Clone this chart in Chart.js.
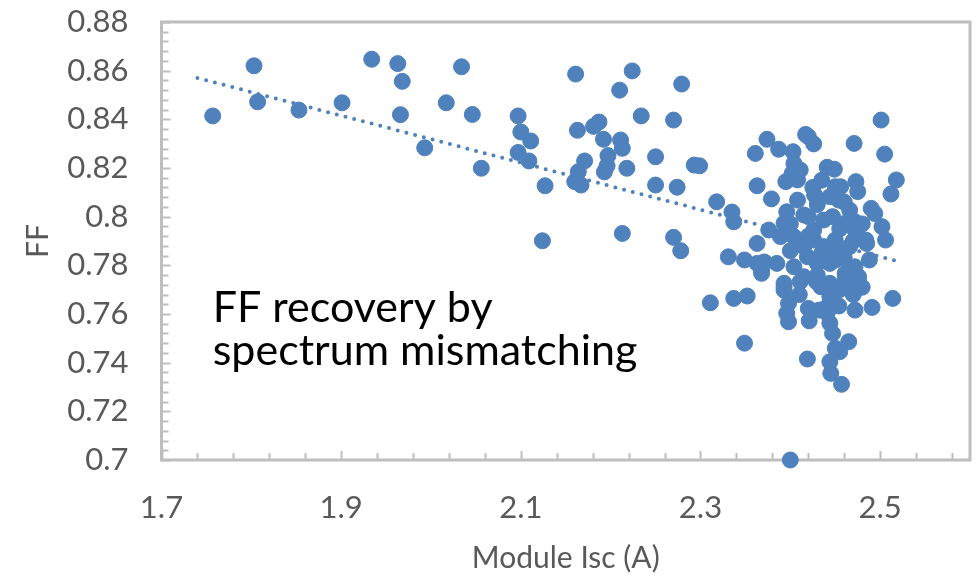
<!DOCTYPE html>
<html>
<head>
<meta charset="utf-8">
<script src="https://cdn.jsdelivr.net/npm/chart.js@4.4.1/dist/chart.umd.min.js"></script>
<style>
  html, body { margin: 0; padding: 0; background: #fff; }
  #wrap { width: 979px; height: 576px; }
</style>
</head>
<body>
<div id="wrap"><canvas id="ffChart" width="979" height="576"></canvas></div>
<script>
// Module short-circuit current (A) against fill factor
const iscValues = [
  1.757, 1.803, 1.807, 1.853, 1.901, 1.934, 1.963, 1.968, 1.966, 1.993,
  2.017, 2.034, 2.046, 2.056, 2.097, 2.100, 2.111, 2.097, 2.109, 2.127,
  2.124, 2.161, 2.163, 2.181, 2.187, 2.192, 2.197, 2.196, 2.193, 2.171,
  2.164, 2.160, 2.167, 2.210, 2.224, 2.211, 2.213, 2.218, 2.213, 2.234,
  2.279, 2.270, 2.250, 2.250, 2.274, 2.293, 2.299, 2.318, 2.335, 2.337,
  2.270, 2.278, 2.331, 2.349, 2.363, 2.371, 2.368, 2.385, 2.361, 2.374,
  2.387, 2.403, 2.417, 2.420, 2.426, 2.471, 2.501, 2.505, 2.518, 2.512,
  2.363, 2.379, 2.404, 2.411, 2.402, 2.395, 2.408, 2.441, 2.449, 2.427,
  2.456, 2.473, 2.475, 2.490, 2.494, 2.502, 2.506,
  2.311, 2.337, 2.352, 2.349, 2.400, 2.398, 2.396, 2.398, 2.393, 2.420,
  2.421, 2.419, 2.432, 2.441, 2.454, 2.444, 2.447, 2.465, 2.455, 2.444,
  2.445, 2.457, 2.472, 2.491, 2.514,
  2.408, 2.396, 2.415, 2.376, 2.393, 2.389, 2.363, 2.426, 2.437, 2.415,
  2.437, 2.404, 2.430, 2.444, 2.454, 2.447, 2.461, 2.472, 2.485, 2.488,
  2.472, 2.450, 2.444, 2.461, 2.476, 2.393, 2.415, 2.434, 2.444, 2.441,
  2.450, 2.461, 2.476, 2.450, 2.404, 2.466, 2.472, 2.450, 2.484, 2.437,
  2.450, 2.393, 2.411, 2.429, 2.444, 2.461, 2.419, 2.426, 2.450, 2.466,
  2.368,
  2.420, 2.430, 2.460, 2.470, 2.455, 2.420, 2.400, 2.430, 2.455, 2.470,
  2.480, 2.410, 2.435, 2.460, 2.480, 2.400, 2.425, 2.435
];
const ffValues = [
  0.8414, 0.8620, 0.8472, 0.8438, 0.8468, 0.8647, 0.8629, 0.8556, 0.8419, 0.8283,
  0.8468, 0.8616, 0.8420, 0.8199, 0.8414, 0.8348, 0.8311, 0.8264, 0.8229, 0.8127,
  0.7901, 0.8586, 0.8355, 0.8371, 0.8389, 0.8318, 0.8251, 0.8209, 0.8184, 0.8229,
  0.8185, 0.8144, 0.8130, 0.8520, 0.8599, 0.8315, 0.8281, 0.8199, 0.7931, 0.8414,
  0.8545, 0.8397, 0.8246, 0.8130, 0.8121, 0.8212, 0.8209, 0.8061, 0.8019, 0.7979,
  0.7915, 0.7860, 0.7835, 0.7822, 0.7808, 0.7814, 0.7781, 0.7808, 0.8260, 0.8318,
  0.8277, 0.8267, 0.8338, 0.8329, 0.8299, 0.8301, 0.8397, 0.8257, 0.8151, 0.8093,
  0.8127, 0.8073, 0.8219, 0.8192, 0.8178, 0.8144, 0.8151, 0.8203, 0.8195, 0.8089,
  0.8123, 0.8144, 0.8103, 0.8034, 0.8013, 0.7959, 0.7904,
  0.7646, 0.7664, 0.7674, 0.7480, 0.7000, 0.7644, 0.7603, 0.7568, 0.7698, 0.7623,
  0.7572, 0.7415, 0.7616, 0.7630, 0.7633, 0.7562, 0.7520, 0.7486, 0.7445, 0.7404,
  0.7356, 0.7311, 0.7616, 0.7627, 0.7664,
  0.8068, 0.8020, 0.8007, 0.7945, 0.7973, 0.7918, 0.7890, 0.7945, 0.7986, 0.7877,
  0.7877, 0.7794, 0.7808, 0.8082, 0.8068, 0.8000, 0.7973, 0.7945, 0.7890, 0.7822,
  0.7794, 0.7877, 0.7808, 0.7767, 0.7753, 0.7712, 0.7753, 0.7712, 0.7671, 0.7603,
  0.7459, 0.7740, 0.7733, 0.7644, 0.7918, 0.8027, 0.7979, 0.8123, 0.7904, 0.7822,
  0.7822, 0.7726, 0.7733, 0.7733, 0.7726, 0.7726, 0.7835, 0.7904, 0.7904, 0.7877,
  0.7767,
  0.8000, 0.8050, 0.8060, 0.7900, 0.7950, 0.7920, 0.7860, 0.7760, 0.7700, 0.7680,
  0.7710, 0.7680, 0.7850, 0.7830, 0.7970, 0.7970, 0.8120, 0.8150
];

// dotted linear trend, end points
const trendX = [1.740, 2.516];
const trendY = [0.857, 0.782];

const xTicks = [1.7, 1.9, 2.1, 2.3, 2.5];
const yTicks = [0.7, 0.72, 0.74, 0.76, 0.78, 0.8, 0.82, 0.84, 0.86, 0.88];

const noteLines = ['FF recovery by', 'spectrum mismatching'];
const noteX = 1.757;
const noteY = [0.7567, 0.7390];

const blue = '#4F81BD';
const axisGrey = '#BEBEBE';
const textGrey = '#595959';
const fontFamily = 'Lato, "Open Sans", sans-serif';

const points = iscValues.map((x, i) => ({ x: x, y: ffValues[i] }));
const trend = trendX.map((x, i) => ({ x: x, y: trendY[i] }));

// plot frame plus inward tick marks (5 minor per major step)
const frameTicks = {
  id: 'frameTicks',
  beforeDatasetsDraw(chart) {
    const { ctx, chartArea: a, scales: { x, y } } = chart;
    ctx.save();
    ctx.strokeStyle = axisGrey;
    ctx.lineWidth = 2;
    for (let i = 0; i <= 45; i++) {
      const py = Math.round(y.getPixelForValue(0.7 + i * 0.004)) + 0.5;
      const len = i % 5 === 0 ? 9 : 7;
      ctx.beginPath();
      ctx.moveTo(a.left, py);
      ctx.lineTo(a.left + len, py);
      ctx.stroke();
    }
    for (let i = 0; i <= 22; i++) {
      const px = Math.round(x.getPixelForValue(1.7 + i * 0.04)) + 0.5;
      const len = i % 5 === 0 ? 9 : 7;
      ctx.beginPath();
      ctx.moveTo(px, a.bottom);
      ctx.lineTo(px, a.bottom - len);
      ctx.stroke();
    }
    ctx.lineWidth = 3;
    ctx.strokeRect(a.left, a.top, a.right - a.left, a.bottom - a.top);
    ctx.restore();
  },
  afterDatasetsDraw(chart) {
    const { ctx, scales: { x, y } } = chart;
    ctx.save();
    ctx.fillStyle = '#000';
    ctx.font = '43px ' + fontFamily;
    ctx.textAlign = 'left';
    ctx.textBaseline = 'alphabetic';
    noteLines.forEach((line, i) => {
      ctx.fillText(line, x.getPixelForValue(noteX), y.getPixelForValue(noteY[i]));
    });
    ctx.restore();
  }
};

new Chart(document.getElementById('ffChart'), {
  type: 'scatter',
  data: {
    datasets: [
      {
        label: 'Trend',
        type: 'line',
        data: trend,
        showLine: true,
        borderColor: blue,
        borderWidth: 4,
        borderDash: [0, 9],
        borderCapStyle: 'round',
        pointRadius: 0,
        fill: false,
        order: 0
      },
      {
        label: 'FF',
        data: points,
        backgroundColor: blue,
        borderColor: blue,
        borderWidth: 1,
        pointRadius: 8,
        clip: false,
        order: 1
      }
    ]
  },
  options: {
    responsive: false,
    animation: false,
    layout: { padding: { top: 22, right: 5, left: 0, bottom: 0 } },
    plugins: {
      legend: { display: false },
      tooltip: { enabled: false }
    },
    scales: {
      x: {
        type: 'linear',
        min: 1.7,
        max: 2.6,
        grid: { display: false, drawTicks: false },
        border: { display: false },
        afterBuildTicks: (scale) => { scale.ticks = xTicks.map(v => ({ value: v })); },
        afterFit: (scale) => {
          scale.height = 116;
          scale.paddingLeft = 0;
          scale.paddingRight = 0;
        },
        ticks: {
          color: textGrey,
          padding: 29,
          font: { family: fontFamily, size: 31 },
          callback: (v) => String(+v.toFixed(2))
        },
        title: {
          display: true,
          text: 'Module Isc (A)',
          color: textGrey,
          padding: { top: 0, bottom: 0 },
          font: { family: fontFamily, size: 30 }
        }
      },
      y: {
        type: 'linear',
        min: 0.7,
        max: 0.88,
        grid: { display: false, drawTicks: false },
        border: { display: false },
        afterBuildTicks: (scale) => { scale.ticks = yTicks.map(v => ({ value: v })); },
        afterFit: (scale) => {
          scale.width = 161.5;
          scale.paddingTop = 0;
          scale.paddingBottom = 0;
        },
        ticks: {
          color: textGrey,
          padding: 33,
          font: { family: fontFamily, size: 31 },
          callback: (v) => String(+v.toFixed(2))
        },
        title: {
          display: true,
          text: 'FF',
          color: textGrey,
          padding: { top: 20, bottom: 0 },
          font: { family: fontFamily, size: 30 }
        }
      }
    }
  },
  plugins: [frameTicks]
});
</script>
</body>
</html>
